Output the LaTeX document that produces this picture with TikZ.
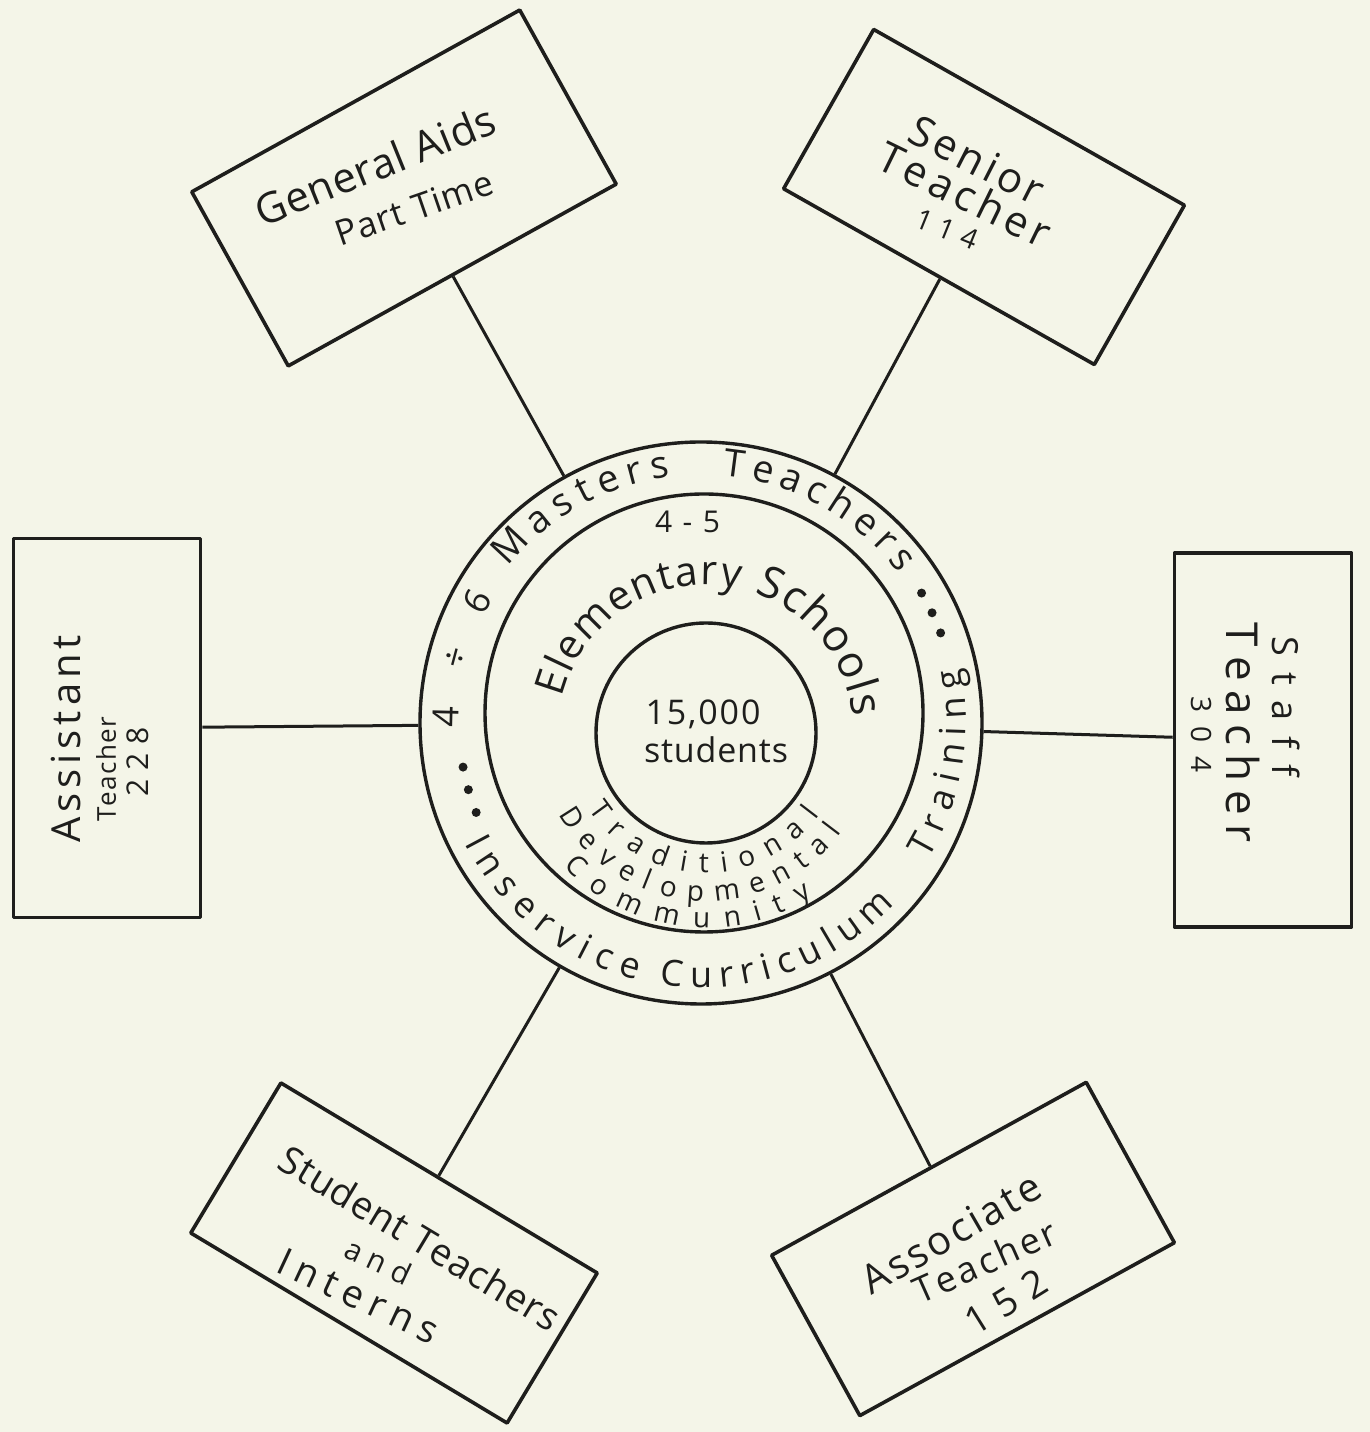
\documentclass[tikz,border=0pt]{standalone}
\usepackage{fontspec}
\setmainfont{Open Sans}
\usetikzlibrary{decorations.text,calc}
\definecolor{paper}{RGB}{244,245,232}
\definecolor{ink}{RGB}{30,30,28}
% spread the letters of a text over a given width
\def\spreadloop#1{\ifx#1\relax\else#1\expandafter\spreadnext\fi}
\def\spreadnext#1{\ifx#1\relax\else\hfil#1\expandafter\spreadnext\fi}
\newcommand\spreadto[2]{\hbox to #1{\spreadloop#2\relax}}
% straight text line: name, cx, cy, angle, width, size, text
\newcommand\tline[7]{\node[lbl,rotate=#4,font=\fontsize{#6pt}{#6pt}\selectfont] (#1) at (#2,#3) {\spreadto{#5pt}{#7}};}
% curved text: cx, cy, radius, start, end, size, text
\newcommand\ctext[7]{\path[decorate,decoration={text along path,text align=fit to path,text={|\color{ink}\fontsize{#6pt}{#6pt}\selectfont|#7}}] ($(#1,#2)+(#4:#3)$) arc[start angle=#4,end angle=#5,radius=#3];}
\begin{document}
\begin{tikzpicture}[x=1pt,y=1pt,
  box/.style={draw=ink,line width=3.6pt,rectangle,inner sep=0pt,line join=round},
  ring/.style={draw=ink,line width=3.4pt,circle,inner sep=0pt},
  conn/.style={draw=ink,line width=3pt},
  lbl/.style={inner sep=0pt,text=ink}]
\useasboundingbox (0,0) rectangle (1370,1432);
\fill[paper] (0,0) rectangle (1370,1432);

% circles
\node[ring,minimum size=562pt] (outer) at (701,709) {};
\node[ring,minimum size=438pt] (middle) at (704,719) {};
\node[ring,minimum size=220pt] (inner) at (706,699) {};

% boxes
\node[box,minimum width=375pt,minimum height=199pt,rotate=29] (gen) at (404,1244) {};
\node[box,minimum width=357pt,minimum height=183pt,rotate=-29.5] (sen) at (984,1235) {};
\node[box,minimum width=187pt,minimum height=379pt] (asst) at (107,704) {};
\node[box,minimum width=177pt,minimum height=374pt] (staff) at (1263,692) {};
\node[box,minimum width=369pt,minimum height=175pt,rotate=-31] (stud) at (394,179) {};
\node[box,minimum width=359pt,minimum height=183pt,rotate=28.8] (assoc) at (973,183) {};

% connectors
\draw[conn] (gen) -- (outer);
\draw[conn] (sen) -- (outer);
\draw[conn] (asst) -- (outer);
\draw[conn] (staff) -- (outer);
\draw[conn] (stud) -- (outer);
\draw[conn] (assoc) -- (outer);

% dots on outer ring
\foreach \a in {190.5,196,201.7} \fill[ink] ($(outer.center)+(\a:242)$) circle (4.5);
\foreach \a in {30.5,25.5,20.6} \fill[ink] ($(outer.center)+(\a:256)$) circle (4.5);

% box texts
\tline{gen1}{375}{1267}{22}{255}{42}{General~Aids}
\tline{gen2}{414}{1224}{19}{164}{35}{Part~Time}
\tline{sen1}{977}{1272}{-27}{146}{42}{Senior}
\tline{sen2}{965}{1238}{-26}{187}{42}{Teacher}
\tline{sen3}{947}{1203}{-22}{65}{28}{114}
\tline{asst1}{66}{693}{90}{208}{40}{Assistant}
\tline{asst2}{106}{662.5}{90}{105}{26}{Teacher}
\tline{asst3}{138}{670}{90}{70}{30}{228}
\tline{staff1}{1286}{725}{-90}{140}{36}{Staff}
\tline{staff2}{1243}{699}{-90}{220}{44}{Teacher}
\tline{staff3}{1201}{697}{-90}{76}{28}{304}
\tline{stud1}{420}{194}{-31}{320}{38}{Student~Teachers}
\tline{stud2}{378.5}{171}{-25}{70}{30}{and}
\tline{stud3}{358.5}{136}{-25}{173}{38}{Interns}
\tline{assoc1}{951}{199}{30}{200}{40}{Associate}
\tline{assoc2}{985}{171}{24}{153}{36}{Teacher}
\tline{assoc3}{1006}{130}{32}{88}{38}{152}

% centre texts
\tline{num}{703}{718}{0}{115}{34}{15,000}
\tline{stu}{716}{682}{0}{144}{34}{students}
\tline{range}{687.5}{910}{0}{65}{30}{4-5}

% ring texts
\ctext{701}{709}{242}{181}{149}{36}{4 ÷ 6}
\ctext{701}{709}{248}{141}{97}{38}{Masters}
\ctext{701}{709}{248}{85}{37}{38}{Teachers}
\ctext{701}{709}{265}{207}{256}{36}{Inservice}
\ctext{701}{709}{265}{261}{317}{36}{Curriculum}
\ctext{701}{709}{265}{329}{372}{36}{Training}
\ctext{706}{699}{148}{166}{77}{41}{Elementary}
\ctext{706}{699}{148}{71}{6}{44}{Schools}
\ctext{706}{699}{140}{213}{324}{28}{Traditional}
\ctext{706}{699}{168}{209}{324}{28}{Developmental}
\ctext{706}{699}{195}{223}{303}{28}{Community}
\end{tikzpicture}
\end{document}
